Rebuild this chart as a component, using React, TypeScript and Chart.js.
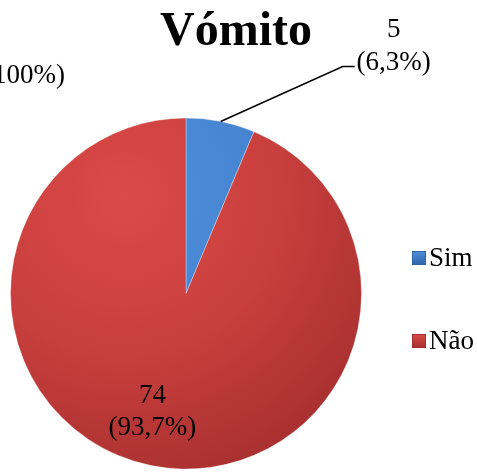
import React, { useEffect, useRef } from "react";
import { Chart, registerables } from "chart.js";

Chart.register(...registerables);

const titleText = "Vómito";
const categories = ["Sim", "Não"];
const counts = [5, 74];
const percentLabels = ["6,3%", "93,7%"];
const totalLabel = "(100%)";

const baseColors = [
  { light: "#4f90dc", mid: "#4583d0", dark: "#3064a8" },
  { light: "#da4a48", mid: "#c93f3d", dark: "#a52f2f" },
];

const SERIF = '"Liberation Serif", "Times New Roman", serif';

const overlayPlugin = {
  id: "overlay",
  afterDraw(chart: any) {
    const ctx = chart.ctx as CanvasRenderingContext2D;
    const meta = chart.getDatasetMeta(0);
    ctx.save();
    ctx.fillStyle = "#000";
    // title
    ctx.font = `bold 48px ${SERIF}`;
    ctx.textAlign = "center";
    ctx.textBaseline = "alphabetic";
    ctx.fillText(titleText, 236, 45);

    // stray total label (partially cut at left edge)
    ctx.font = `27px ${SERIF}`;
    ctx.textAlign = "right";
    ctx.fillText(totalLabel, 65, 83);

    // Sim label with leader line
    const a0 = meta.data[0];
    const m0 = (a0.startAngle + a0.endAngle) / 2;
    const ex = a0.x + Math.cos(m0) * a0.outerRadius;
    const ey = a0.y + Math.sin(m0) * a0.outerRadius;
    ctx.strokeStyle = "#000";
    ctx.lineWidth = 1.5;
    ctx.beginPath();
    ctx.moveTo(ex, ey);
    ctx.lineTo(ex + 122, ey - 55);
    ctx.lineTo(ex + 134, ey - 55);
    ctx.stroke();
    ctx.textAlign = "center";
    ctx.textBaseline = "middle";
    ctx.font = `27px ${SERIF}`;
    ctx.fillText(String(counts[0]), ex + 173, ey - 92);
    ctx.fillText(`(${percentLabels[0]})`, ex + 173, ey - 59);

    // Não label inside
    const a1 = meta.data[1];
    const m1 = (a1.startAngle + a1.endAngle) / 2;
    const lx = a1.x + Math.cos(m1) * a1.outerRadius * 0.68 - 10;
    const ly = a1.y + Math.sin(m1) * a1.outerRadius * 0.68;
    ctx.fillText(String(counts[1]), lx, ly - 15);
    ctx.fillText(`(${percentLabels[1]})`, lx, ly + 17);

    // legend
    const legendY = [258, 341];
    categories.forEach((c, i) => {
      const y = legendY[i];
      const g = ctx.createLinearGradient(0, y - 7, 0, y + 7);
      g.addColorStop(0, baseColors[i].light);
      g.addColorStop(1, baseColors[i].dark);
      ctx.fillStyle = g;
      ctx.fillRect(412, y - 7, 14, 14);
      ctx.strokeStyle = baseColors[i].dark;
      ctx.lineWidth = 1;
      ctx.strokeRect(412.5, y - 6.5, 13, 13);
      ctx.fillStyle = "#000";
      ctx.textAlign = "left";
      ctx.textBaseline = "middle";
      ctx.font = `27px ${SERIF}`;
      ctx.fillText(c, 429, y + 1);
    });
    ctx.restore();
  },
};

export default function App() {
  const ref = useRef<HTMLCanvasElement>(null);
  useEffect(() => {
    document.body.style.margin = "0";
    const canvas = ref.current!;
    const chart = new Chart(canvas, {
      type: "pie",
      data: {
        labels: categories,
        datasets: [
          {
            data: counts,
            backgroundColor: (context: any) => {
              const ch = context.chart;
              const area = ch.chartArea;
              const i = context.dataIndex;
              if (!area) return baseColors[i].mid;
              const cx = (area.left + area.right) / 2;
              const cy = (area.top + area.bottom) / 2;
              const r = Math.min(area.right - area.left, area.bottom - area.top) / 2;
              const g = ch.ctx.createRadialGradient(cx - r * 0.35, cy - r * 0.55, 0, cx - r * 0.35, cy - r * 0.55, r * 1.75);
              g.addColorStop(0, baseColors[i].light);
              g.addColorStop(0.5, baseColors[i].mid);
              g.addColorStop(1, baseColors[i].dark);
              return g;
            },
            borderColor: "rgba(255,255,255,0.3)",
            borderWidth: 1,
          },
        ],
      },
      options: {
        responsive: false,
        animation: false,
        devicePixelRatio: 1,
        layout: { padding: { left: 10, right: 115, top: 117, bottom: 2 } },
        plugins: {
          legend: { display: false },
          title: { display: false },
          tooltip: { enabled: false },
        },
      },
      plugins: [overlayPlugin],
    } as any);
    return () => chart.destroy();
  }, []);
  return (
    <div style={{ position: "absolute", left: 0, top: 0, width: 477, height: 472, background: "#fff" }}>
      <canvas ref={ref} width={477} height={472} style={{ width: 477, height: 472 }} />
    </div>
  );
}
